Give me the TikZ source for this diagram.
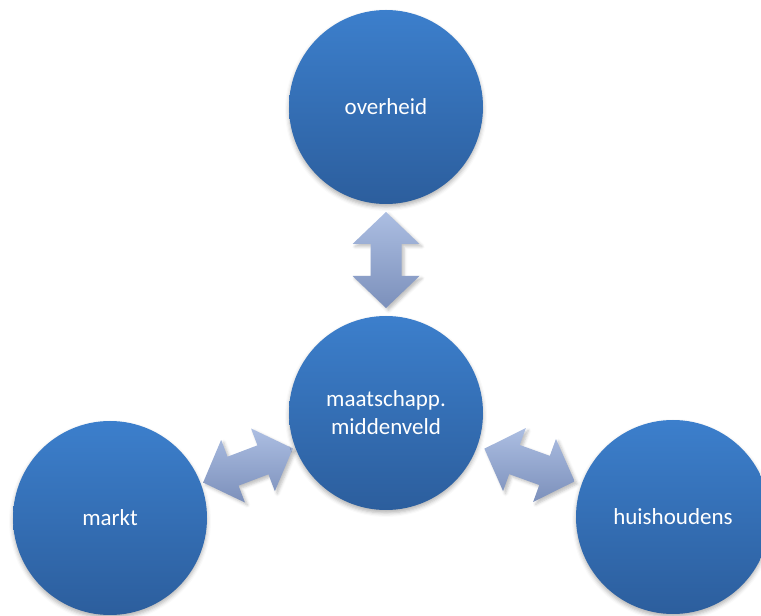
\documentclass[tikz,border=0pt]{standalone}
\usepackage{fontspec}
\setmainfont{Carlito}
\usetikzlibrary{shadows.blur,calc}
\definecolor{ballTop}{RGB}{60,127,204}
\definecolor{ballBot}{RGB}{44,94,157}
\definecolor{arrTop}{RGB}{172,190,226}
\definecolor{arrBot}{RGB}{124,144,187}
\tikzset{
  ball/.style={circle, minimum size=194pt, inner sep=0pt, top color=ballTop, bottom color=ballBot,
    draw=none, text=white, font=\fontsize{23}{28}\selectfont, align=center,
    blur shadow={shadow xshift=0pt, shadow yshift=-3pt, shadow blur radius=4pt, shadow opacity=30}},
  blockarrow/.style={top color=arrTop, bottom color=arrBot, draw=none,
    blur shadow={shadow xshift=2.5pt, shadow yshift=-2.5pt, shadow blur radius=3pt, shadow opacity=25}},
  pics/dblarrow/.style={code={
    \path[blockarrow] (-48,0) -- (-16,33.5) -- (-16,15.5) -- (16,15.5) -- (16,33.5) -- (48,0)
      -- (16,-33.5) -- (16,-15.5) -- (-16,-15.5) -- (-16,-33.5) -- cycle;
  }}
}
\begin{document}
\begin{tikzpicture}[x=1pt,y=1pt]
\useasboundingbox (0,0) rectangle (761,616);
\clip (0,0) rectangle (761,616);
\coordinate (cover) at (386,509);
\coordinate (cmid) at (386,203);
\coordinate (cmarkt) at (110,98);
\coordinate (chuis) at (673,99);
\pic (a1) [rotate=90] at ($(cover)!0.5!(cmid)$) {dblarrow};
\pic (a2) [rotate=20.8] at ($(cmarkt)!0.5!(cmid)$) {dblarrow};
\pic (a3) [rotate=-19.9] at ($(cmid)!0.5!(chuis)$) {dblarrow};
\node[ball] (over) at (cover) {overheid};
\node[ball] (mid) at (cmid) {maatschapp.\\middenveld};
\node[ball] (markt) at (cmarkt) {markt};
\node[ball] (huis) at (chuis) {huishoudens};
\end{tikzpicture}
\end{document}
